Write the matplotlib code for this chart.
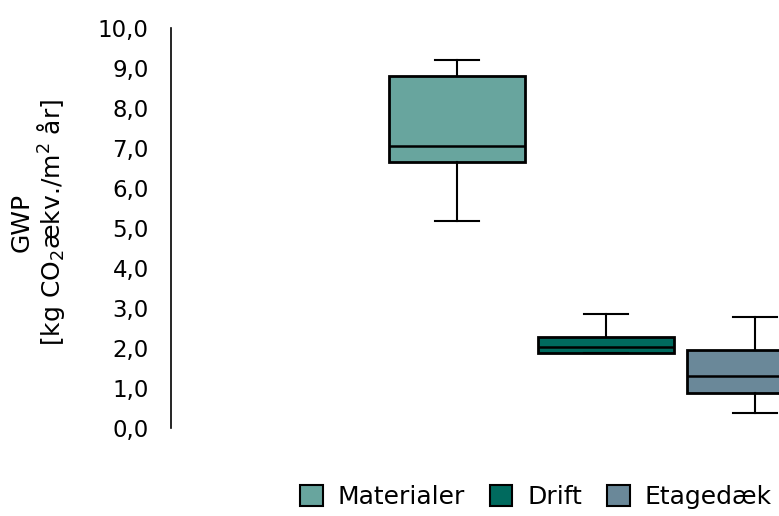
import matplotlib.pyplot as plt

plt.rcParams['font.family'] = ['DejaVu Sans']
plt.rcParams['mathtext.default'] = 'regular'

# GWP per kategori (kg CO2-ækv./m2 år)
kategorier = ['Materialer', 'Drift', 'Etagedæk']
farver = ['#68a59e', '#006a5e', '#6a8899']
whis_lav = [5.18, 1.88, 0.38]
q1 = [6.65, 1.88, 0.88]
median = [7.05, 2.03, 1.30]
q3 = [8.80, 2.28, 1.95]
whis_hoj = [9.20, 2.85, 2.78]

y_ticks = [0, 1, 2, 3, 4, 5, 6, 7, 8, 9, 10]

fig = plt.figure(figsize=(7.79, 5.16), dpi=100)
ax = fig.add_axes([171 / 779, 88 / 516, 608 / 779, 400 / 516])

stats = []
for i, navn in enumerate(kategorier):
    stats.append(dict(label=navn, whislo=whis_lav[i], q1=q1[i], med=median[i],
                      q3=q3[i], whishi=whis_hoj[i]))

pos = list(range(len(kategorier)))
bp = ax.bxp(stats, positions=pos, widths=0.91, patch_artist=True, showfliers=False,
            boxprops=dict(linewidth=2.0, edgecolor='black'),
            medianprops=dict(color='black', linewidth=1.8),
            whiskerprops=dict(color='black', linewidth=1.5),
            capprops=dict(color='black', linewidth=1.5),
            capwidths=0.29)
for patch, c in zip(bp['boxes'], farver):
    patch.set_facecolor(c)

ax.set_xlim(-1.919, 2.161)
ax.set_ylim(0, 10)
ax.set_yticks(y_ticks)
ax.set_yticklabels([f'{v:.1f}'.replace('.', ',') for v in y_ticks],
                   fontsize=16.5, fontweight='medium')
ax.tick_params(axis='y', length=0, pad=16)
ax.set_xticks([])
for side in ['top', 'right', 'bottom']:
    ax.spines[side].set_visible(False)
ax.spines['left'].set_linewidth(1.2)

fig.text(38 / 779, 1 - 222 / 516, 'GWP\n[kg CO$_2$ækv./m$^2$ år]', rotation=90,
         ha='center', va='center', multialignment='center', fontsize=18,
         linespacing=1.05)

handles = [plt.Rectangle((0, 0), 1, 1, facecolor=c, edgecolor='black', linewidth=1.5)
           for c in farver]
fig.legend(handles, kategorier, loc='center left', bbox_to_anchor=(290 / 779, 1 - 497 / 516),
           ncol=3, frameon=False, fontsize=18, handlelength=0.9, handleheight=0.9,
           handletextpad=0.6, columnspacing=1.0, borderaxespad=0)

fig.savefig('out.png', dpi=100)
